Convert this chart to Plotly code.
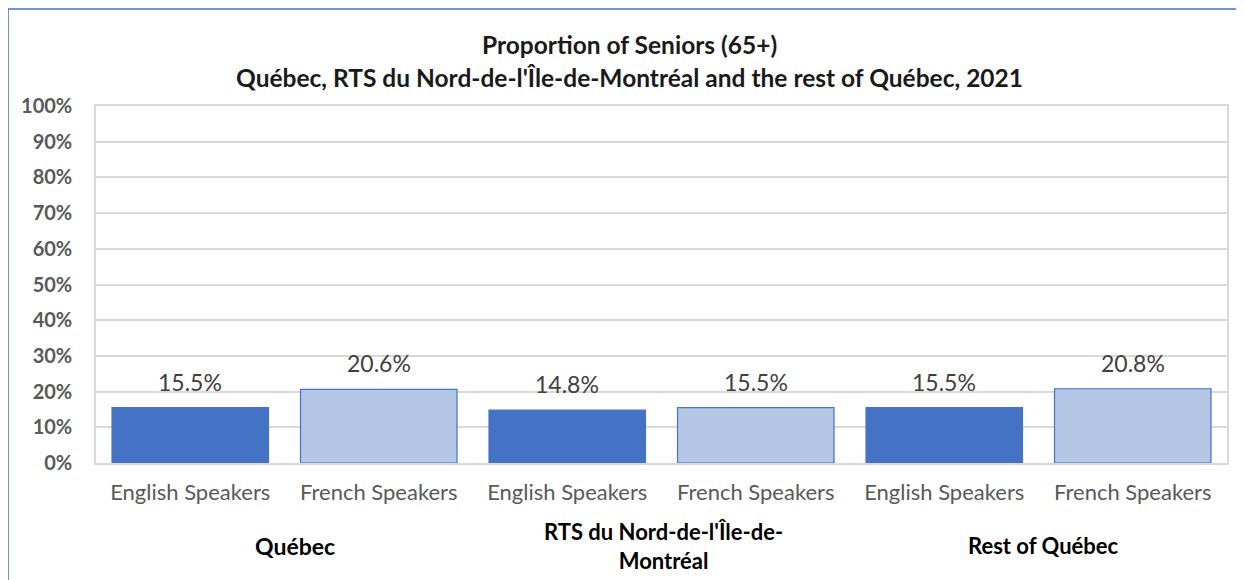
import plotly.graph_objects as go

# Data
groups = ["Québec", "RTS du Nord-de-l'Île-de-<br>Montréal", "Rest of Québec"]
categories = ["English Speakers", "French Speakers"]
values = [15.5, 20.6, 14.8, 15.5, 15.5, 20.8]
y_ticks = [0, 10, 20, 30, 40, 50, 60, 70, 80, 90, 100]

dark = "#4472C4"
light = "#B4C7E7"
FONT = "Lato"

n = len(groups) * len(categories)
xs = list(range(n))
ticktext = [categories[i % 2] for i in xs]
colors = [dark if i % 2 == 0 else light for i in xs]

fig = go.Figure()
fig.add_trace(go.Bar(
    x=xs, y=values, width=0.83,
    marker=dict(color=colors, line=dict(color=dark, width=1.2)),
    hoverinfo="skip",
))

annotations = []
for x, v in zip(xs, values):
    annotations.append(dict(
        x=x, y=v, xref="x", yref="y", text=f"{v:.1f}%", showarrow=False,
        yanchor="bottom", yshift=10,
        font=dict(family=FONT, size=23, color="#404040"),
    ))
group_font = [23, 22, 22]
group_shift = [10, 2, 5]
for gi, g in enumerate(groups):
    annotations.append(dict(
        x=gi * 2 + 0.5, y=-0.232, xref="x", yref="paper", text=f"<b>{g}</b>",
        showarrow=False, yanchor="middle", xshift=group_shift[gi],
        font=dict(family=FONT, size=group_font[gi], color="#000000"),
    ))
annotations.append(dict(
    x=0.472, y=1.1709, xref="paper", yref="paper",
    text="<b>Proportion of Seniors (65+)</b>", showarrow=False, yanchor="middle",
    font=dict(family=FONT, size=24.5, color="#1a1a1a"),
))
annotations.append(dict(
    x=0.472, y=1.0812, xref="paper", yref="paper",
    text="<b>Québec, RTS du Nord-de-l'Île-de-Montréal and the rest of Québec, 2021</b>",
    showarrow=False, yanchor="middle",
    font=dict(family=FONT, size=24.5, color="#1a1a1a"),
))

fig.update_layout(
    width=1244, height=580,
    margin=dict(l=88, r=25, t=98, b=125),
    paper_bgcolor="white", plot_bgcolor="white",
    showlegend=False,
    annotations=annotations,
    shapes=[dict(type="rect", xref="paper", yref="paper",
                 x0=-0.0778, x1=1.0088, y0=-0.4, y1=1.2717,
                 line=dict(color=dark, width=1.5), layer="below")],
    font=dict(family=FONT),
)
fig.update_xaxes(
    range=[-0.5, n - 0.5], tickmode="array", tickvals=xs, ticktext=ticktext,
    tickfont=dict(family=FONT, size=22, color="#595959"),
    showgrid=False, showline=True, linecolor="#d9d9d9", linewidth=1.5, mirror=True,
    ticks="", ticklabelstandoff=9, zeroline=False,
)
fig.update_yaxes(
    range=[0, 100], tickmode="array", tickvals=y_ticks,
    ticktext=[f"<b>{t}%</b>" for t in y_ticks],
    tickfont=dict(family=FONT, size=20, color="#595959"),
    showgrid=True, gridcolor="#d9d9d9", gridwidth=1.5,
    showline=True, linecolor="#d9d9d9", linewidth=1.5, mirror=True,
    ticks="", ticklabelstandoff=18, zeroline=False,
)

fig.write_html("out.html")
